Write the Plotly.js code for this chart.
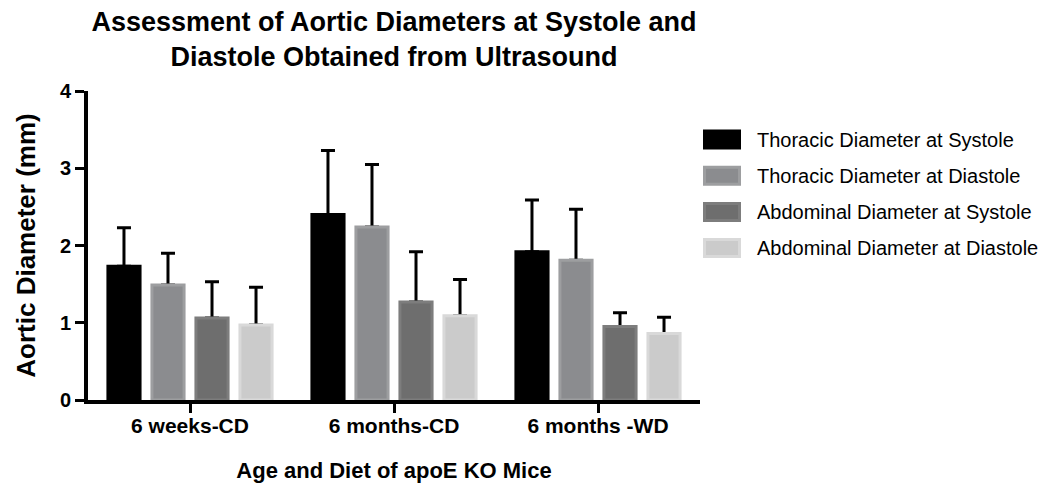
<!DOCTYPE html>
<html>
<head>
<meta charset="utf-8">
<script src="https://cdn.plot.ly/plotly-3.0.1.min.js"></script>
<style>
  html, body { margin: 0; padding: 0; background: #fff; }
  #chart { width: 1045px; height: 495px; }
</style>
</head>
<body>
<div id="chart"></div>
<script>
// Groups on the x axis
const groups = ['6 weeks-CD', '6 months-CD', '6 months -WD'];

// Series names
const seriesNames = [
  'Thoracic Diameter at Systole',
  'Thoracic Diameter at Diastole',
  'Abdominal Diameter at Systole',
  'Abdominal Diameter at Diastole'
];

// Mean aortic diameters (mm), one value per group
const thoracicSystole = [1.73, 2.40, 1.92];
const thoracicDiastole = [1.49, 2.24, 1.81];
const abdominalSystole = [1.06, 1.27, 0.95];
const abdominalDiastole = [0.97, 1.09, 0.86];

// Upper error (SD) for each mean
const thoracicSystoleErr = [0.50, 0.83, 0.67];
const thoracicDiastoleErr = [0.41, 0.81, 0.66];
const abdominalSystoleErr = [0.47, 0.65, 0.18];
const abdominalDiastoleErr = [0.49, 0.47, 0.21];

// Y axis ticks
const yTicks = [0, 1, 2, 3, 4];

const seriesValues = [thoracicSystole, thoracicDiastole, abdominalSystole, abdominalDiastole];
const seriesErrors = [thoracicSystoleErr, thoracicDiastoleErr, abdominalSystoleErr, abdominalDiastoleErr];
const fillColors = ['#000000', '#8b8c8f', '#6e6e6e', '#cbcbcb'];
const edgeColors = ['#000000', '#9d9ea0', '#7d7d7d', '#d9d9d9'];

const FONT = 'Liberation Sans, Arial, Helvetica, sans-serif';

// Error bars ride on transparent bars placed first, so the visible bars
// (same offset group, drawn later) hide the lower end of each whisker.
const whiskerTraces = seriesNames.map((name, i) => ({
  type: 'bar',
  name: name + ' (SD)',
  x: groups,
  y: seriesValues[i],
  offsetgroup: 'g' + i,
  marker: { color: 'rgba(0,0,0,0)', line: { width: 0 } },
  error_y: {
    type: 'data',
    symmetric: false,
    array: seriesErrors[i],
    arrayminus: seriesErrors[i].map(() => 0),
    color: '#000000',
    thickness: 3,
    width: 7
  },
  showlegend: false,
  hoverinfo: 'skip'
}));

const barTraces = seriesNames.map((name, i) => ({
  type: 'bar',
  name: name,
  x: groups,
  y: seriesValues[i],
  offsetgroup: 'g' + i,
  marker: { color: fillColors[i], line: { color: edgeColors[i], width: 3 } },
  showlegend: false,
  hoverinfo: 'x+y+name'
}));

// Plot area geometry (pixels)
const W = 1045, H = 495;
const M = { l: 88, r: 345, t: 91, b: 95 };
const plotW = W - M.l - M.r;
const plotH = H - M.t - M.b;
const px2paperX = px => (px - M.l) / plotW;
const px2paperY = py => (H - M.b - py) / plotH;

// Hand-built legend: large swatches with labels
const legendTop = 139.5, legendStep = 36.2;
const swatchLeft = 703, swatchRight = 741, swatchHalfH = 10;
const labelLeft = 755;

const shapes = [];
const annotations = [];
seriesNames.forEach((name, i) => {
  const cy = legendTop + i * legendStep;
  shapes.push({
    type: 'rect', xref: 'paper', yref: 'paper',
    x0: px2paperX(swatchLeft + 1.5), x1: px2paperX(swatchRight - 1.5),
    y0: px2paperY(cy + swatchHalfH - 1.5), y1: px2paperY(cy - swatchHalfH + 1.5),
    fillcolor: fillColors[i],
    line: { color: edgeColors[i], width: 3 }
  });
  annotations.push({
    xref: 'paper', yref: 'paper',
    x: px2paperX(labelLeft), y: px2paperY(cy),
    xanchor: 'left', yanchor: 'middle',
    text: name, showarrow: false,
    font: { family: FONT, size: 20, color: '#000' }
  });
});

const layout = {
  width: W, height: H,
  margin: M,
  paper_bgcolor: '#ffffff',
  plot_bgcolor: '#ffffff',
  barmode: 'group',
  bargap: 0.137,
  bargroupgap: 0.27,
  showlegend: false,
  title: {
    text: 'Assessment of Aortic Diameters at Systole and<br>Diastole Obtained from Ultrasound',
    font: { family: FONT, size: 27, color: '#000', weight: 'bold' },
    xref: 'paper', x: 0.5, xanchor: 'center',
    yref: 'container', y: 0.938, yanchor: 'top'
  },
  xaxis: {
    range: [-0.5, 2.5],
    showline: true, linecolor: '#000', linewidth: 4,
    ticks: 'outside', ticklen: 9, tickwidth: 3, tickcolor: '#000',
    ticklabelstandoff: -5,
    showgrid: false, zeroline: false,
    tickfont: { family: FONT, size: 21, color: '#000', weight: 'bold' },
    title: {
      text: 'Age and Diet of apoE KO Mice',
      font: { family: FONT, size: 22, color: '#000', weight: 'bold' },
      standoff: 27
    }
  },
  yaxis: {
    range: [0, 4],
    tickvals: yTicks,
    ticktext: yTicks.map(String),
    showline: true, linecolor: '#000', linewidth: 4,
    ticks: 'outside', ticklen: 9, tickwidth: 3, tickcolor: '#000',
    showgrid: false, zeroline: false,
    tickfont: { family: FONT, size: 20, color: '#000', weight: 'bold' },
    title: {
      text: 'Aortic Diameter (mm)',
      font: { family: FONT, size: 26, color: '#000', weight: 'bold' },
      standoff: 18
    }
  },
  shapes: shapes,
  annotations: annotations
};

Plotly.newPlot('chart', whiskerTraces.concat(barTraces), layout, { displayModeBar: false, staticPlot: true });
</script>
</body>
</html>
